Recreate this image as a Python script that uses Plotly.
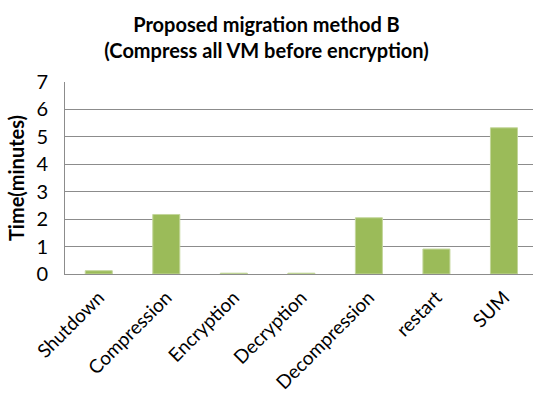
import plotly.graph_objects as go

categories = ["Shutdown", "Compression", "Encryption", "Decryption", "Decompression", "restart", "SUM"]
times = [0.12, 2.17, 0.03, 0.03, 2.05, 0.91, 5.33]
y_ticks = [0, 1, 2, 3, 4, 5, 6, 7]

font_family = "Lato, 'Open Sans', sans-serif"

fig = go.Figure(go.Bar(
    x=categories, y=times,
    marker=dict(color="#9BBB59", line=dict(color="#C3D69B", width=1)),
    width=0.4,
))

fig.update_layout(
    width=533, height=397,
    margin=dict(l=65, r=0, t=82, b=123),
    paper_bgcolor="white", plot_bgcolor="white",
    showlegend=False,
    font=dict(family=font_family, size=19, color="black"),
    title=dict(
        text="<b>Proposed migration method B<br>(Compress all VM before encryption)</b>",
        x=0.5, xanchor="center", xref="container", y=1 - 32 / 397, yanchor="middle", yref="container",
        font=dict(family=font_family, size=20, color="black"),
    ),
)
fig.update_xaxes(
    range=[-0.5, 6.43],
    tickangle=-45,
    showline=True, linecolor="#8C8C8C", linewidth=1,
    ticks="", showgrid=False,
    tickfont=dict(size=19),
    ticklabelstandoff=4,
    automargin=False,
)
fig.update_yaxes(
    range=[0, 7], tickvals=y_ticks,
    showline=True, linecolor="#8C8C8C", linewidth=1,
    showgrid=True, gridcolor="#8C8C8C", gridwidth=1,
    ticks="", ticklen=0,
    tickfont=dict(size=20),
    ticklabelstandoff=12,
    title=dict(text="<b>Time(minutes)</b>", font=dict(size=20), standoff=6),
    zeroline=False,
    automargin=False,
)

fig.write_html("out.html")
